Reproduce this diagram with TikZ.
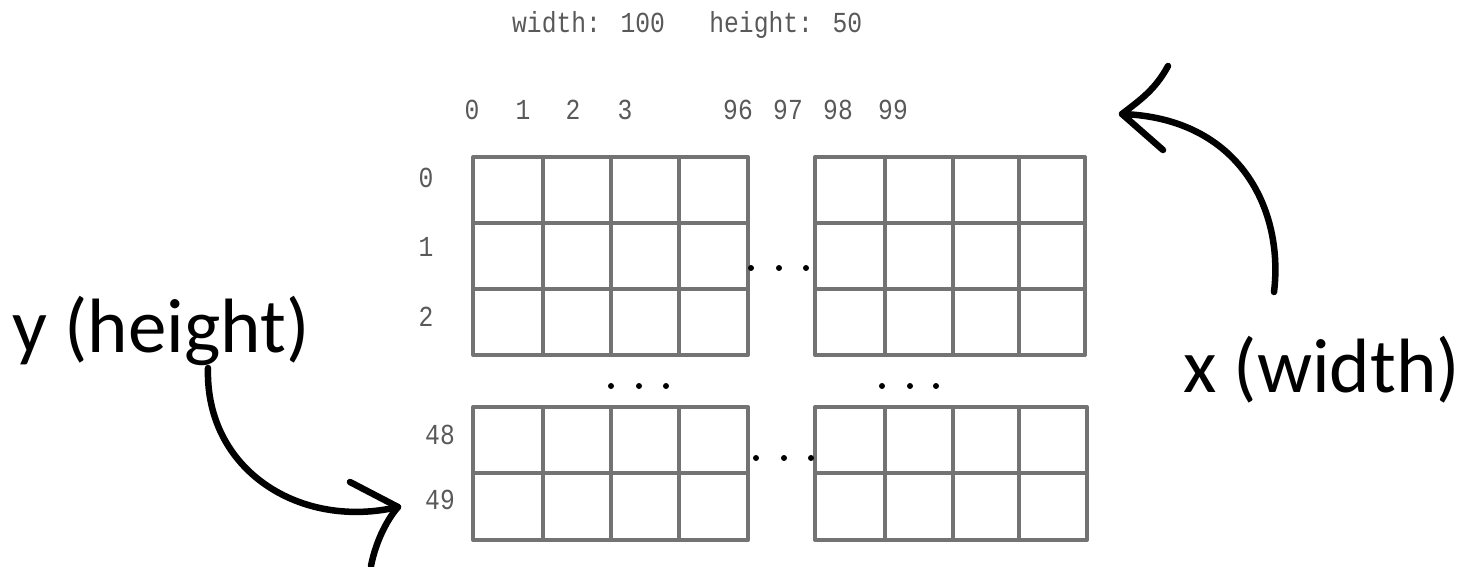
\documentclass[tikz,border=0pt]{standalone}
\usepackage{fontspec}
\setmainfont{Carlito}
\newfontfamily\monofnt[FakeStretch=0.85]{Liberation Mono}
\begin{document}
\begin{tikzpicture}[x=1pt,y=-1pt,
  gridline/.style={draw=black!55, line width=4pt, line join=round, line cap=round},
  mono/.style={font=\monofnt\fontsize{29}{34}\selectfont, text=black!65, inner sep=0pt},
  axis/.style={font=\fontsize{77}{90}\selectfont, inner sep=0pt, anchor=base west},
  dot/.style={circle, fill=black, inner sep=0pt, minimum size=6pt},
  arrowline/.style={draw=black, line width=6.5pt, line cap=round, line join=round}]
\useasboundingbox (0,0) rectangle (1472,566);

% title
\node[mono, anchor=base west] (title) at (512,32) {width: 100\ \ \ height: 50};

% column labels
\foreach \lab/\xx/\nm in {0/472/c0,1/523/c1,2/573/c2,3/625/c3,96/738/c96,97/788/c97,98/838/c98,99/893/c99}
  \node[mono, anchor=base] (\nm) at (\xx,119) {\lab};

% row labels
\foreach \lab/\xx/\yy/\nm in {0/426/178/r0,1/426/247/r1,2/426/317/r2,48/440/435/r48,49/440/500/r49}
  \node[mono] (\nm) at (\xx,\yy) {\lab};

% top-left block
\draw[gridline] (473,157) rectangle (748,355);
\foreach \xx in {543,611,679} \draw[gridline] (\xx,157) -- (\xx,355);
\foreach \yy in {223,289} \draw[gridline] (473,\yy) -- (748,\yy);
% top-right block
\draw[gridline] (815,157) rectangle (1085,355);
\foreach \xx in {885,953,1019} \draw[gridline] (\xx,157) -- (\xx,355);
\foreach \yy in {223,289} \draw[gridline] (815,\yy) -- (1085,\yy);
% bottom-left block
\draw[gridline] (473,407) rectangle (748,540);
\foreach \xx in {543,611,679} \draw[gridline] (\xx,407) -- (\xx,540);
\draw[gridline] (473,473) -- (748,473);
% bottom-right block
\draw[gridline] (815,407) rectangle (1087,540);
\foreach \xx in {885,953,1019} \draw[gridline] (\xx,407) -- (\xx,540);
\draw[gridline] (815,473) -- (1087,473);

% ellipsis dots
\foreach \xx/\yy [count=\i] in {751/268,779/268,806/268, 756/458,784/458,811/458,
    611/386,639/386,666/386, 882/386,910/386,936/386}
  \node[dot] (d\i) at (\xx,\yy) {};

% axis labels
\node[axis] (ylab) at (12,352) {y (height)};
\node[axis] (xlab) at (1183,392) {x (width)};

% x arrow
\coordinate (xs) at (1274,292);
\coordinate (xh) at (1122,114);
\coordinate (xb1) at (1168,66);
\coordinate (xb2) at (1163,150);
\draw[arrowline] (xs) .. controls (1284,210) and (1240,118) .. (xh);
\draw[arrowline] (xb1) .. controls (1155,90) and (1140,100) .. (xh) -- (xb2);

% y arrow
\coordinate (ys) at (208,368);
\coordinate (yh) at (398,507);
\coordinate (yb1) at (350,482);
\coordinate (yb2) at (371,566);
\draw[arrowline] (ys) .. controls (205,470) and (300,530) .. (yh);
\draw[arrowline] (yb1) -- (yh) .. controls (385,522) and (375,545) .. (yb2);
\end{tikzpicture}
\end{document}
